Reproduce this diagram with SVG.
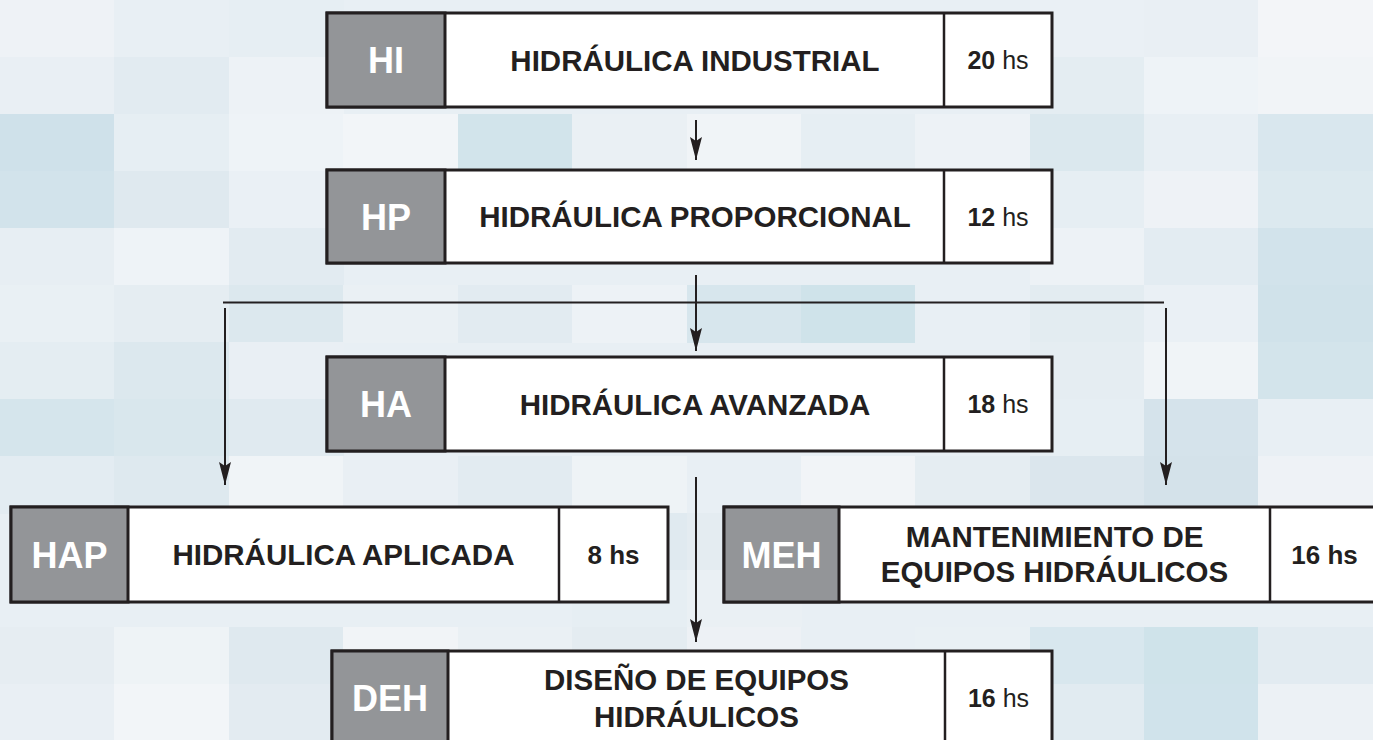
<svg xmlns="http://www.w3.org/2000/svg" width="1373" height="740" viewBox="0 0 1373 740">
<style>
.w{fill:#fff;stroke:#231f20;stroke-width:3}
.g{fill:#939598;stroke:#231f20;stroke-width:3}
.dv{stroke:#231f20;stroke-width:2.5}
.code{font-family:"Liberation Sans",Arial,sans-serif;font-weight:bold;font-size:36px;fill:#fff;text-anchor:middle}
.title{font-family:"Liberation Sans",Arial,sans-serif;font-weight:bold;font-size:29.5px;fill:#231f20;text-anchor:middle}
.hrs{font-family:"Liberation Sans",Arial,sans-serif;font-size:25px;fill:#231f20;text-anchor:middle}
.hb{font-weight:bold;font-size:26px}
.conn{stroke:#231f20;stroke-width:2;fill:none}
</style>
<defs>
<marker id="arr" viewBox="0 -6 23 12" refX="23" refY="0" markerWidth="23" markerHeight="12" markerUnits="userSpaceOnUse" orient="auto">
<path d="M0,-6 L23,0 L0,6 L4,0 Z" fill="#231f20"/>
</marker>
</defs>
<g id="background">
<rect x="0" y="0" width="1373" height="740" fill="#e8eff4"/>
<g shape-rendering="crispEdges">
<rect x="0" y="0" width="115" height="58" fill="#eef2f6"/>
<rect x="114" y="0" width="115" height="58" fill="#e8eff4"/>
<rect x="229" y="0" width="115" height="58" fill="#e6eef3"/>
<rect x="1030" y="0" width="115" height="58" fill="#eaf0f5"/>
<rect x="1144" y="0" width="115" height="58" fill="#e9eff4"/>
<rect x="1258" y="0" width="115" height="58" fill="#f3f5f8"/>
<rect x="0" y="57" width="115" height="58" fill="#e9eff4"/>
<rect x="114" y="57" width="115" height="58" fill="#e2ebf1"/>
<rect x="229" y="57" width="115" height="58" fill="#edf2f6"/>
<rect x="1030" y="57" width="115" height="58" fill="#e4edf2"/>
<rect x="1144" y="57" width="115" height="58" fill="#eef3f7"/>
<rect x="1258" y="57" width="115" height="58" fill="#f1f4f7"/>
<rect x="0" y="114" width="115" height="58" fill="#cfe1ea"/>
<rect x="114" y="114" width="115" height="58" fill="#e6eef3"/>
<rect x="229" y="114" width="115" height="58" fill="#eef3f7"/>
<rect x="343" y="114" width="115" height="58" fill="#f2f5f8"/>
<rect x="458" y="114" width="115" height="58" fill="#d2e4eb"/>
<rect x="572" y="114" width="115" height="58" fill="#eaf0f4"/>
<rect x="687" y="114" width="115" height="58" fill="#f0f4f7"/>
<rect x="801" y="114" width="115" height="58" fill="#e6eef3"/>
<rect x="915" y="114" width="115" height="58" fill="#edf2f6"/>
<rect x="1030" y="114" width="115" height="58" fill="#dbe8ee"/>
<rect x="1144" y="114" width="115" height="58" fill="#e8eff4"/>
<rect x="1258" y="114" width="115" height="58" fill="#d9e7ee"/>
<rect x="0" y="171" width="115" height="58" fill="#d2e3eb"/>
<rect x="114" y="171" width="115" height="58" fill="#dfe9ef"/>
<rect x="229" y="171" width="115" height="58" fill="#eaf0f5"/>
<rect x="1030" y="171" width="115" height="58" fill="#e6eef3"/>
<rect x="1144" y="171" width="115" height="58" fill="#eef2f6"/>
<rect x="1258" y="171" width="115" height="58" fill="#dce9ef"/>
<rect x="0" y="228" width="115" height="58" fill="#e7eef3"/>
<rect x="114" y="228" width="115" height="58" fill="#eef3f7"/>
<rect x="229" y="228" width="115" height="58" fill="#e2ebf1"/>
<rect x="1030" y="228" width="115" height="58" fill="#edf2f6"/>
<rect x="1144" y="228" width="115" height="58" fill="#e3ecf2"/>
<rect x="1258" y="228" width="115" height="58" fill="#d2e3eb"/>
<rect x="0" y="285" width="115" height="58" fill="#e9f0f4"/>
<rect x="114" y="285" width="115" height="58" fill="#e5edf2"/>
<rect x="229" y="285" width="115" height="58" fill="#dce8ee"/>
<rect x="343" y="285" width="115" height="58" fill="#eaf0f4"/>
<rect x="458" y="285" width="115" height="58" fill="#e2ebf1"/>
<rect x="572" y="285" width="115" height="58" fill="#edf2f6"/>
<rect x="687" y="285" width="115" height="58" fill="#d7e6ed"/>
<rect x="801" y="285" width="115" height="58" fill="#cfe3ea"/>
<rect x="915" y="285" width="115" height="58" fill="#e8eff4"/>
<rect x="1030" y="285" width="115" height="58" fill="#e3ecf1"/>
<rect x="1144" y="285" width="115" height="58" fill="#eaf0f5"/>
<rect x="1258" y="285" width="115" height="58" fill="#d0e2ea"/>
<rect x="0" y="342" width="115" height="58" fill="#e4edf2"/>
<rect x="114" y="342" width="115" height="58" fill="#dce8ee"/>
<rect x="229" y="342" width="115" height="58" fill="#e9eff4"/>
<rect x="1030" y="342" width="115" height="58" fill="#e5edf2"/>
<rect x="1144" y="342" width="115" height="58" fill="#f0f4f7"/>
<rect x="1258" y="342" width="115" height="58" fill="#d3e4eb"/>
<rect x="0" y="399" width="115" height="58" fill="#d5e5ec"/>
<rect x="114" y="399" width="115" height="58" fill="#d9e7ed"/>
<rect x="229" y="399" width="115" height="58" fill="#e0eaf0"/>
<rect x="1030" y="399" width="115" height="58" fill="#e6eef3"/>
<rect x="1144" y="399" width="115" height="58" fill="#d5e3eb"/>
<rect x="1258" y="399" width="115" height="58" fill="#e8eff4"/>
<rect x="0" y="456" width="115" height="58" fill="#e3ecf2"/>
<rect x="114" y="456" width="115" height="58" fill="#dee9ef"/>
<rect x="229" y="456" width="115" height="58" fill="#f0f4f7"/>
<rect x="343" y="456" width="115" height="58" fill="#e9eff4"/>
<rect x="458" y="456" width="115" height="58" fill="#e2ebf1"/>
<rect x="572" y="456" width="115" height="58" fill="#eef3f6"/>
<rect x="687" y="456" width="115" height="58" fill="#e8eff4"/>
<rect x="801" y="456" width="115" height="58" fill="#f1f4f7"/>
<rect x="915" y="456" width="115" height="58" fill="#e5edf2"/>
<rect x="1030" y="456" width="115" height="58" fill="#dbe6ed"/>
<rect x="1144" y="456" width="115" height="58" fill="#d4e2ea"/>
<rect x="1258" y="456" width="115" height="58" fill="#eef2f6"/>
<rect x="572" y="513" width="115" height="58" fill="#e0eaf0"/>
<rect x="687" y="513" width="115" height="58" fill="#e4ecf1"/>
<rect x="572" y="570" width="115" height="58" fill="#e6eef3"/>
<rect x="687" y="570" width="115" height="58" fill="#eaf0f4"/>
<rect x="0" y="627" width="115" height="58" fill="#e6edf2"/>
<rect x="114" y="627" width="115" height="58" fill="#eef3f6"/>
<rect x="229" y="627" width="115" height="58" fill="#dfe9ef"/>
<rect x="343" y="627" width="115" height="58" fill="#f1f4f7"/>
<rect x="458" y="627" width="115" height="58" fill="#eaf0f4"/>
<rect x="572" y="627" width="115" height="58" fill="#e4ecf1"/>
<rect x="687" y="627" width="115" height="58" fill="#edf1f5"/>
<rect x="801" y="627" width="115" height="58" fill="#e8eff4"/>
<rect x="915" y="627" width="115" height="58" fill="#e9f0f4"/>
<rect x="1030" y="627" width="115" height="58" fill="#d8e7ee"/>
<rect x="1144" y="627" width="115" height="58" fill="#cfe3ea"/>
<rect x="1258" y="627" width="115" height="58" fill="#e2ebf1"/>
<rect x="0" y="684" width="115" height="58" fill="#e9eff4"/>
<rect x="114" y="684" width="115" height="58" fill="#f2f5f8"/>
<rect x="229" y="684" width="115" height="58" fill="#e3ebf1"/>
<rect x="1030" y="684" width="115" height="58" fill="#e1ebf1"/>
<rect x="1144" y="684" width="115" height="58" fill="#d0e3eb"/>
<rect x="1258" y="684" width="115" height="58" fill="#ecf1f5"/>
</g>
</g>
<g id="connectors">
<line class="conn" x1="696" y1="120" x2="696" y2="160" marker-end="url(#arr)"/>
<line class="conn" x1="696" y1="275" x2="696" y2="351" marker-end="url(#arr)"/>
<line class="conn" x1="223" y1="302.5" x2="1164" y2="302.5"/>
<line class="conn" x1="225" y1="308" x2="225" y2="485" marker-end="url(#arr)"/>
<line class="conn" x1="1166" y1="308" x2="1166" y2="485" marker-end="url(#arr)"/>
<line class="conn" x1="696" y1="477" x2="696" y2="642" marker-end="url(#arr)"/>
</g>
<g id="HI">
<rect class="w" x="327" y="13" width="725" height="94"/>
<rect class="g" x="327" y="13" width="118" height="94"/>
<line class="dv" x1="944" y1="13" x2="944" y2="107"/>
<text class="code" x="386" y="73">HI</text>
<text class="title" x="695" y="71">HIDRÁULICA INDUSTRIAL</text>
<text class="hrs" x="998" y="69"><tspan font-weight="bold">20</tspan> hs</text>
</g>
<g id="HP">
<rect class="w" x="327" y="170" width="725" height="93"/>
<rect class="g" x="327" y="170" width="118" height="93"/>
<line class="dv" x1="944" y1="170" x2="944" y2="263"/>
<text class="code" x="386" y="229.5">HP</text>
<text class="title" x="695" y="227">HIDRÁULICA PROPORCIONAL</text>
<text class="hrs" x="998" y="225.5"><tspan font-weight="bold">12</tspan> hs</text>
</g>
<g id="HA">
<rect class="w" x="327" y="357" width="725" height="94"/>
<rect class="g" x="327" y="357" width="118" height="94"/>
<line class="dv" x1="944" y1="357" x2="944" y2="451"/>
<text class="code" x="386" y="417">HA</text>
<text class="title" x="695" y="414.5">HIDRÁULICA AVANZADA</text>
<text class="hrs" x="998" y="413"><tspan font-weight="bold">18</tspan> hs</text>
</g>
<g id="HAP">
<rect class="w" x="11" y="507" width="657" height="95"/>
<rect class="g" x="11" y="507" width="117" height="95"/>
<line class="dv" x1="559" y1="507" x2="559" y2="602"/>
<text class="code" x="69.5" y="567.5">HAP</text>
<text class="title" x="343.5" y="565">HIDRÁULICA APLICADA</text>
<text class="hrs hb" x="613.5" y="564">8 hs</text>
</g>
<g id="MEH">
<rect class="w" x="724" y="507" width="655" height="95"/>
<rect class="g" x="724" y="507" width="115" height="95"/>
<line class="dv" x1="1270" y1="507" x2="1270" y2="602"/>
<text class="code" x="781.5" y="567.5">MEH</text>
<text class="title" x="1054.5" y="547">MANTENIMIENTO DE</text>
<text class="title" x="1054.5" y="582">EQUIPOS HIDRÁULICOS</text>
<text class="hrs hb" x="1324.5" y="564">16 hs</text>
</g>
<g id="DEH">
<rect class="w" x="332" y="651" width="720" height="94"/>
<rect class="g" x="332" y="651" width="116" height="94"/>
<line class="dv" x1="945" y1="651" x2="945" y2="745"/>
<text class="code" x="390" y="711">DEH</text>
<text class="title" x="696.5" y="690">DISEÑO DE EQUIPOS</text>
<text class="title" x="696.5" y="727">HIDRÁULICOS</text>
<text class="hrs" x="998.5" y="707"><tspan font-weight="bold">16</tspan> hs</text>
</g>
</svg>
